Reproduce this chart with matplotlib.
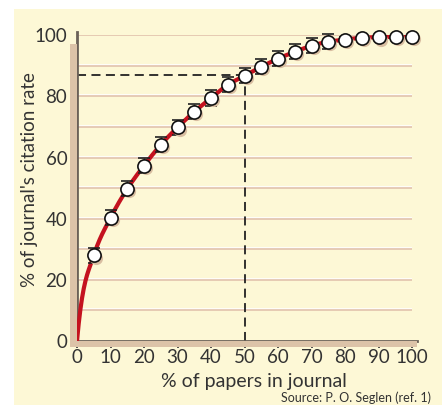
import matplotlib.pyplot as plt
import numpy as np
from matplotlib.patches import Rectangle

plt.rcParams['font.family'] = ['Lato', 'DejaVu Sans']

# data
papers_pct = [5, 10, 15, 20, 25, 30, 35, 40, 45, 50,
              55, 60, 65, 70, 75, 80, 85, 90, 95, 100]
citation_pct = [28, 40.3, 49.8, 57.4, 64.2, 69.9, 75.0, 79.5, 83.8, 86.8,
                89.7, 92.4, 94.6, 96.6, 97.9, 98.6, 99.2, 99.4, 99.5, 99.6]
err = [2.5, 2.5, 2.5, 2.5, 2.5, 2.5, 2.5, 2.5, 2.5, 2.5,
       2.5, 2.5, 2.5, 2.5, 2.5, 1, 0.5, 0.3, 0.3, 0.2]
x_ticks = [0, 10, 20, 30, 40, 50, 60, 70, 80, 90, 100]
y_ticks = [0, 20, 40, 60, 80, 100]
grid_y = [10, 20, 30, 40, 50, 60, 70, 80, 90, 100]
marked_x = 50
marked_y = 87

W, H = 442, 405
fig = plt.figure(figsize=(W / 100, H / 100), dpi=100)
fig.patch.set_facecolor('white')

def fx(px):
    return px / W

def fy(py):
    return 1 - py / H

# yellow panel
fig.add_artist(Rectangle((fx(14), 0), 1 - fx(14), fy(9), transform=fig.transFigure,
                         facecolor='#fdf8d6', edgecolor='none', zorder=0))
# spine shadows
fig.add_artist(Rectangle((fx(70), fy(346)), fx(7), fy(44) - fy(346), transform=fig.transFigure,
                         facecolor='#dcc3a8', edgecolor='none', zorder=1))
fig.add_artist(Rectangle((fx(70), fy(347)), fx(417 - 70), fy(341) - fy(347), transform=fig.transFigure,
                         facecolor='#dcc3a8', edgecolor='none', zorder=1))

ax = fig.add_axes([fx(77), fy(341), fx(412.3 - 77), fy(35.3) - fy(341)])
ax.set_facecolor('none')
ax.set_xlim(0, 100)
ax.set_ylim(0, 100)

# grid lines: tan with a white highlight above
for g in grid_y:
    ax.plot([0, 100.3], [g + 0.35, g + 0.35], color='white', lw=1.2, zorder=1)
    ax.plot([0, 100.3], [g, g], color='#e2c3ad', lw=1.2, zorder=1)

# dashed guides
ax.plot([0, marked_x], [marked_y, marked_y], ls=(0, (5, 3)), color='#222222', lw=1.3, zorder=2)
ax.plot([marked_x, marked_x], [0, marked_y], ls=(0, (5, 3)), color='#222222', lw=1.3, zorder=2)

# red fitted curve through the origin and the points
cx = np.array([0] + papers_pct, dtype=float)
cy = np.array([0] + citation_pct, dtype=float)
xs = np.linspace(0, 100, 400)
# monotone piecewise cubic through the points
h = np.diff(cx)
d = np.diff(cy) / h
m = np.zeros_like(cx)
for i in range(1, len(cx) - 1):
    if d[i - 1] * d[i] > 0:
        w1 = 2 * h[i] + h[i - 1]
        w2 = h[i] + 2 * h[i - 1]
        m[i] = (w1 + w2) / (w1 / d[i - 1] + w2 / d[i])
m[0] = d[0] * 2.2
m[-1] = d[-1]
idx = np.clip(np.searchsorted(cx, xs) - 1, 0, len(cx) - 2)
t = (xs - cx[idx]) / h[idx]
h00 = 2 * t**3 - 3 * t**2 + 1
h10 = t**3 - 2 * t**2 + t
h01 = -2 * t**3 + 3 * t**2
h11 = t**3 - t**2
ys = h00 * cy[idx] + h10 * h[idx] * m[idx] + h01 * cy[idx + 1] + h11 * h[idx] * m[idx + 1]
ax.plot(xs, ys, color='#c4121f', lw=3, zorder=3, solid_capstyle='round')

# error bars
ax.errorbar(papers_pct, citation_pct, yerr=err, fmt='none', ecolor='#222222',
            elinewidth=1, capsize=4.5, capthick=1.2, zorder=4, clip_on=False)
# marker shadows
ax.plot(np.array(papers_pct) + 0.6, np.array(citation_pct) - 0.8, 'o', ms=9.5,
        color='#d9bea2', mec='none', zorder=4, clip_on=False)
ax.plot(papers_pct, citation_pct, 'o', ms=9.5, mfc='white', mec='#111111', mew=1.2,
        zorder=5, clip_on=False)

for s in ['top', 'right']:
    ax.spines[s].set_visible(False)
ax.spines['left'].set_color('#6b6158')
ax.spines['bottom'].set_color('#6b6158')
ax.spines['left'].set_linewidth(2)
ax.spines['bottom'].set_linewidth(2)
ax.spines['left'].set_bounds(0, 101)
ax.spines['bottom'].set_bounds(0, 101.5)

ax.set_xticks(x_ticks)
ax.set_yticks(y_ticks)
ax.tick_params(axis='x', direction='out', length=5, width=1.3, color='#444444',
               labelsize=13.5, labelcolor='#333333', pad=1)
ax.tick_params(axis='y', direction='out', length=0, labelsize=13.5,
               labelcolor='#333333', pad=7)

fig.text(fx(254), fy(381), '% of papers in journal', fontsize=14, color='#333333',
         ha='center', va='center')
fig.text(fx(30), fy(180), "% of journal's citation rate", fontsize=13.5, color='#333333',
         ha='center', va='center', rotation=90)

fig.text(fx(431), fy(398), 'Source: P. O. Seglen (ref. 1)', fontsize=9,
         color='#333333', ha='right', va='center')

fig.savefig('out.png', dpi=100)
